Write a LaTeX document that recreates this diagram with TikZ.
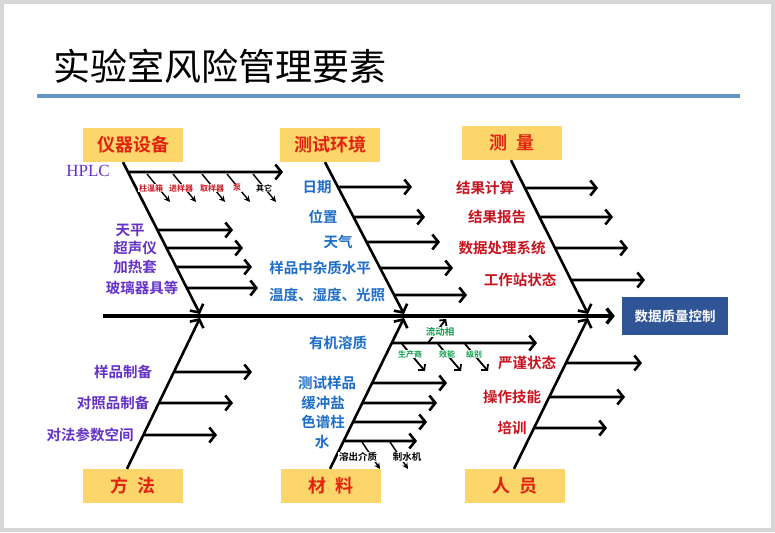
\documentclass[tikz,border=0pt]{standalone}
\usepackage{fontspec}
\setmainfont{Noto Sans CJK SC}[BoldFont={Noto Sans CJK SC Bold}]
\newfontfamily\hplcfont{Liberation Serif}
\usetikzlibrary{arrows.meta,calc}
\definecolor{cpurple}{RGB}{100,50,200}
\definecolor{cblue}{RGB}{30,110,200}
\definecolor{cred}{RGB}{200,20,30}
\definecolor{cboxred}{RGB}{225,35,15}
\definecolor{cgreen}{RGB}{20,160,80}
\definecolor{cyellow}{RGB}{252,214,106}
\definecolor{cnavy}{RGB}{47,85,151}
\definecolor{cline}{RGB}{100,150,195}
\definecolor{cframe}{RGB}{215,215,215}
\newcommand\fbranch[5]{%
  \coordinate (#5s) at (intersection of #1--#2 and 0,#3--10,#3);
  \coordinate (#5e) at (#4,#3);
  \draw[br] (#5s) -- (#5e);}
\begin{document}
\begin{tikzpicture}[x=1pt,y=-1pt,
  catbox/.style={fill=cyellow, minimum width=100pt, minimum height=34pt, inner sep=0pt, text=cboxred, font=\fontsize{18}{18}\selectfont\bfseries},
  bone/.style={line width=2.6pt, -{Straight Barb[length=6pt,width=15pt]}},
  br/.style={line width=2.6pt, -{Straight Barb[length=6pt,width=15pt]}},
  spine/.style={line width=3.4pt, -{Straight Barb[length=6pt,width=15pt]}},
  lab/.style={font=\fontsize{14.5}{15}\selectfont\bfseries, inner sep=0pt},
  tiny/.style={font=\fontsize{8}{8}\selectfont\bfseries, fill=white, inner sep=0.6pt},
  small/.style={font=\fontsize{9.5}{10}\selectfont\bfseries, fill=white, inner sep=0.6pt},
  subarr/.style={line width=1.4pt, -{Stealth[length=6pt,width=6pt]}},
  subarrb/.style={line width=1.8pt, -{Straight Barb[length=4pt,width=9pt]}},
]
\useasboundingbox (0,0) rectangle (775,532);
\fill[cframe] (0,0) rectangle (775,532);
\fill[white] (4,4) rectangle (771,528);

% title
\node[anchor=west, inner sep=0pt, font=\fontsize{37}{37}\selectfont] (title) at (53,66) {实验室风险管理要素};
\coordinate (L0) at (37,96);
\coordinate (L1) at (740,96);
\draw[cline, line width=4pt] (L0) -- (L1);

% category boxes
\node[catbox] (box1) at (133,145) {仪器设备};
\node[catbox] (box2) at (330,145) {测试环境};
\node[catbox] (box3) at (512,143) {测\hspace{9pt}量};
\node[catbox] (box4) at (133,486) {方\hspace{9pt}法};
\node[catbox] (box5) at (331,486) {材\hspace{9pt}料};
\node[catbox] (box6) at (515,486) {人\hspace{9pt}员};

% effect box and spine
\node[fill=cnavy, text=white, minimum width=106pt, minimum height=38pt, inner sep=0pt,
      font=\fontsize{13.5}{14}\selectfont\bfseries] (Q) at (675,316) {数据质量控制};
\coordinate (S0) at (103,316);
\draw[spine, shorten >=7pt] (S0) -- (Q.west);

% bones
\coordinate (T1) at ($(box1.south)+(-10,0)$);
\coordinate (B1) at (200,314);
\coordinate (T2) at ($(box2.south)+(-5,0)$);
\coordinate (B2) at (404,314);
\coordinate (T3) at ($(box3.south)+(-1,0)$);
\coordinate (B3) at (588,314);
\coordinate (B4) at ($(box4.north)+(-6,0)$);
\coordinate (T4) at (200,318);
\coordinate (B5) at ($(box5.north)+(-1,0)$);
\coordinate (T5) at (404,318);
\coordinate (B6) at ($(box6.north)+(-1,0)$);
\coordinate (T6) at (588,318);
\draw[bone] (T1) -- (B1);
\draw[bone] (T2) -- (B2);
\draw[bone] (T3) -- (B3);
\draw[bone] (B4) -- (T4);
\draw[bone] (B5) -- (T5);
\draw[bone] (B6) -- (T6);

% ---- 仪器设备
\fbranch{T1}{B1}{172}{283}{hp}
\foreach \xx/\nm in {147/a,173/b,202/c,227/d,253/e}{
  \coordinate (hp\nm0) at (\xx,174);
  \coordinate (hp\nm1) at (\xx+23,202);
  \draw[subarr] (hp\nm0) -- (hp\nm1);
}
\node[text=cpurple, inner sep=0pt, font=\hplcfont\fontsize{17}{17}\selectfont] (hplc) at (88,171) {HPLC};
\node[tiny, text=cred] (h1) at (151,188) {柱温箱};
\node[tiny, text=cred] (h2) at (181,188) {进样器};
\node[tiny, text=cred] (h3) at (212,188) {取样器};
\node[tiny, text=cred] (h4) at (237,188) {泵};
\node[tiny, text=black] (h5) at (264,188) {其它};

\fbranch{T1}{B1}{230}{233}{y1}
\fbranch{T1}{B1}{248}{243}{y2}
\fbranch{T1}{B1}{267}{252}{y3}
\fbranch{T1}{B1}{288}{258}{y4}
\node[lab, text=cpurple] (ly1) at (130,230) {天平};
\node[lab, text=cpurple] (ly2) at (135,248) {超声仪};
\node[lab, text=cpurple] (ly3) at (135,267) {加热套};
\node[lab, text=cpurple] (ly4) at (142,288) {玻璃器具等};

% ---- 测试环境
\fbranch{T2}{B2}{187}{412}{c1}
\fbranch{T2}{B2}{217}{425}{c2}
\fbranch{T2}{B2}{242}{440}{c3}
\fbranch{T2}{B2}{268}{453}{c4}
\fbranch{T2}{B2}{295}{467}{c5}
\node[lab, text=cblue] (lc1) at (317,187) {日期};
\node[lab, text=cblue] (lc2) at (323,217) {位置};
\node[lab, text=cblue] (lc3) at (338,242) {天气};
\node[lab, text=cblue] (lc4) at (320,268) {样品中杂质水平};
\node[lab, text=cblue] (lc5) at (327,295) {温度、湿度、光照};

% ---- 测量
\fbranch{T3}{B3}{188}{598}{m1}
\fbranch{T3}{B3}{217}{613}{m2}
\fbranch{T3}{B3}{248}{628}{m3}
\fbranch{T3}{B3}{280}{645}{m4}
\node[lab, text=cred] (lm1) at (485,188) {结果计算};
\node[lab, text=cred] (lm2) at (497,217) {结果报告};
\node[lab, text=cred] (lm3) at (502,248) {数据处理系统};
\node[lab, text=cred] (lm4) at (520,280) {工作站状态};

% ---- 方法
\fbranch{T4}{B4}{372}{252}{f1}
\fbranch{T4}{B4}{403}{233}{f2}
\fbranch{T4}{B4}{435}{217}{f3}
\node[lab, text=cpurple] (lf1) at (123,372) {样品制备};
\node[lab, text=cpurple] (lf2) at (113,403) {对照品制备};
\node[lab, text=cpurple] (lf3) at (90,435) {对法参数空间};

% ---- 材料
\fbranch{T5}{B5}{343}{537}{r1}
\coordinate (ra0) at (428,343);
\coordinate (ra1) at (446,319);
\draw[subarrb] (ra0) -- (ra1);
\foreach \xx/\nm in {402/a,438/b,465/c}{
  \coordinate (rd\nm0) at (\xx,344);
  \coordinate (rd\nm1) at (\xx+23,371);
  \draw[subarrb] (rd\nm0) -- (rd\nm1);
}
\node[small, text=cgreen] (g0) at (440,332) {流动相};
\node[tiny, text=cgreen] (g1) at (410,354) {生产商};
\node[tiny, text=cgreen] (g2) at (447,354) {效能};
\node[tiny, text=cgreen] (g3) at (474,354) {级别};
\fbranch{T5}{B5}{383}{447}{r2}
\fbranch{T5}{B5}{403}{437}{r3}
\fbranch{T5}{B5}{422}{427}{r4}
\fbranch{T5}{B5}{441}{417}{r5}
\foreach \xx/\nm in {362/a,390/b}{
  \coordinate (rw\nm0) at (\xx,442);
  \coordinate (rw\nm1) at (\xx+18,469);
  \draw[subarr] (rw\nm0) -- (rw\nm1);
}
\node[small, text=black] (w1) at (358,457) {溶出介质};
\node[small, text=black] (w2) at (407,457) {制水机};
\node[lab, text=cblue] (lr1) at (338,343) {有机溶质};
\node[lab, text=cblue] (lr2) at (327,383) {测试样品};
\node[lab, text=cblue] (lr3) at (323,403) {缓冲盐};
\node[lab, text=cblue] (lr4) at (323,422) {色谱柱};
\node[lab, text=cblue] (lr5) at (322,442) {水};

% ---- 人员
\fbranch{T6}{B6}{363}{642}{p1}
\fbranch{T6}{B6}{397}{625}{p2}
\fbranch{T6}{B6}{428}{607}{p3}
\node[lab, text=cred] (lp1) at (527,363) {严谨状态};
\node[lab, text=cred] (lp2) at (512,397) {操作技能};
\node[lab, text=cred] (lp3) at (512,428) {培训};
\end{tikzpicture}
\end{document}
